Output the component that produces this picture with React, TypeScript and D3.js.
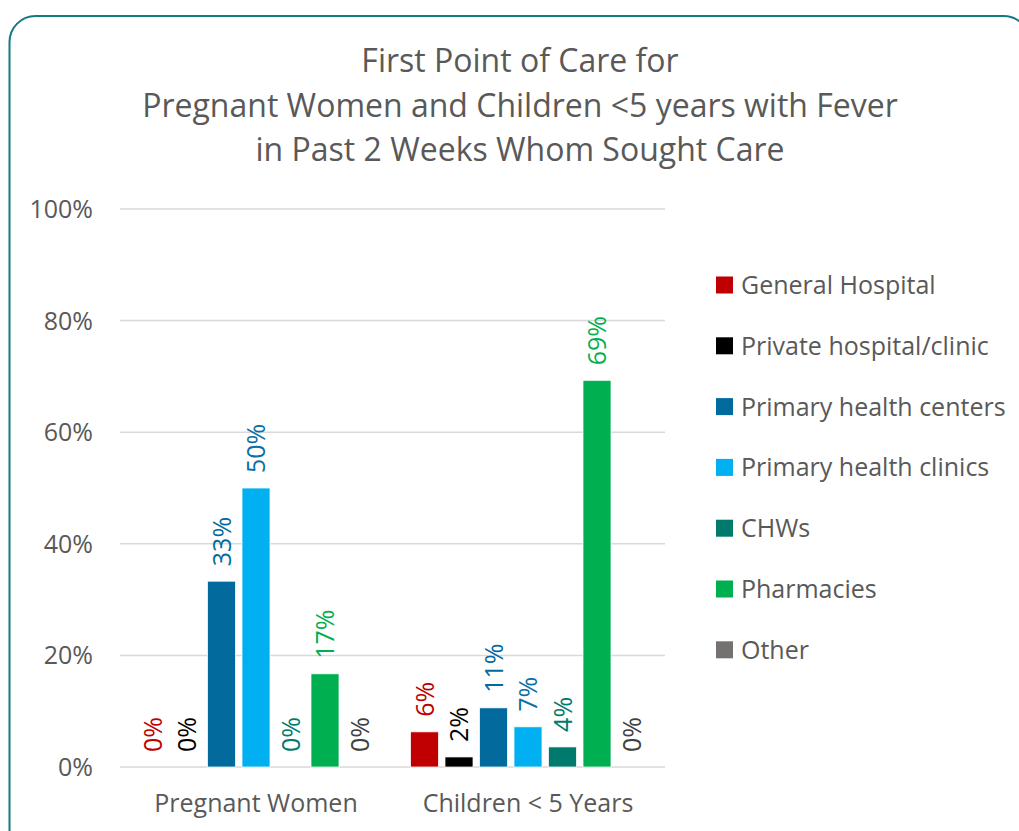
import React from "react";
import * as d3 from "d3";

const titleLines = [
  "First Point of Care for",
  "Pregnant Women and Children <5 years with Fever",
  "in Past 2 Weeks Whom Sought Care",
];
const categories = ["Pregnant Women", "Children < 5 Years"];
const seriesNames = [
  "General Hospital",
  "Private hospital/clinic",
  "Primary health centers",
  "Primary health clinics",
  "CHWs",
  "Pharmacies",
  "Other",
];
const seriesColors = ["#C00000", "#000000", "#036A9E", "#00B0F0", "#007A6C", "#00B050", "#767171"];
const labelColors = ["#C00000", "#000000", "#036A9E", "#0B6FA5", "#007A6C", "#00B050", "#404040"];
const pregnantValues = [0, 0, 33.3, 50, 0, 16.7, 0];
const childrenValues = [6.3, 1.8, 10.6, 7.2, 3.6, 69.3, 0];
const valuesByCategory = [pregnantValues, childrenValues];
const yTicks = [0, 20, 40, 60, 80, 100];

const FONT = "'Open Sans', 'DejaVu Sans', sans-serif";
const GRAY = "#595959";

export default function App() {
  const left = 120;
  const right = 664;
  const top = 209;
  const bottom = 767;

  const x0 = d3.scaleBand<string>().domain(categories).range([left, right]).padding(0);
  const x1 = d3
    .scaleBand<string>()
    .domain(seriesNames)
    .range([0, x0.bandwidth()])
    .paddingInner(0.188)
    .paddingOuter(0.536);
  const y = d3.scaleLinear().domain([0, 100]).range([bottom, top]);

  return (
    <svg
      width={1019}
      height={831}
      style={{ position: "absolute", left: 0, top: 0, background: "#fff" }}
      fontFamily={FONT}
    >
      <rect x={0} y={0} width={1019} height={831} fill="#fff" />
      <rect
        x={9.5}
        y={16}
        width={1020}
        height={840}
        rx={26}
        ry={26}
        fill="none"
        stroke="#137B83"
        strokeWidth={2}
      />
      {titleLines.map((t, i) => (
        <text key={i} x={520} y={72 + i * 44.5} textAnchor="middle" fontSize={32} fill={GRAY}>
          {t}
        </text>
      ))}
      {yTicks.map((t) => (
        <g key={t}>
          <line x1={left} x2={right + 1} y1={y(t)} y2={y(t)} stroke="#D9D9D9" strokeWidth={1.5} />
          <text x={93} y={y(t)} dy="0.36em" textAnchor="end" fontSize={25} fill={GRAY}>
            {t}%
          </text>
        </g>
      ))}
      {categories.map((c, ci) => (
        <g key={c} transform={`translate(${x0(c)},0)`}>
          {seriesNames.map((s, si) => {
            const v = valuesByCategory[ci][si];
            const bx = x1(s) as number;
            const bw = x1.bandwidth();
            const cx = bx + bw / 2;
            const ly = y(v) - 15;
            return (
              <g key={s}>
                {v > 0 && (
                  <rect
                    x={bx}
                    y={y(v)}
                    width={bw}
                    height={bottom - y(v)}
                    fill={seriesColors[si]}
                    stroke="#fff"
                    strokeWidth={0.75}
                  />
                )}
                <text
                  transform={`translate(${cx},${ly}) rotate(-90)`}
                  dy="0.37em"
                  textAnchor="start"
                  fontSize={25}
                  fill={labelColors[si]}
                >
                  {Math.round(v)}%
                </text>
              </g>
            );
          })}
          <text x={x0.bandwidth() / 2} y={812} textAnchor="middle" fontSize={25} fill={GRAY}>
            {c}
          </text>
        </g>
      ))}
      {seriesNames.map((s, i) => {
        const cy = 285 + i * 60.8;
        return (
          <g key={s}>
            <rect x={716} y={cy - 8.5} width={17} height={17} fill={seriesColors[i]} />
            <text x={741} y={cy} dy="0.36em" fontSize={25} fill={GRAY}>
              {s}
            </text>
          </g>
        );
      })}
    </svg>
  );
}
